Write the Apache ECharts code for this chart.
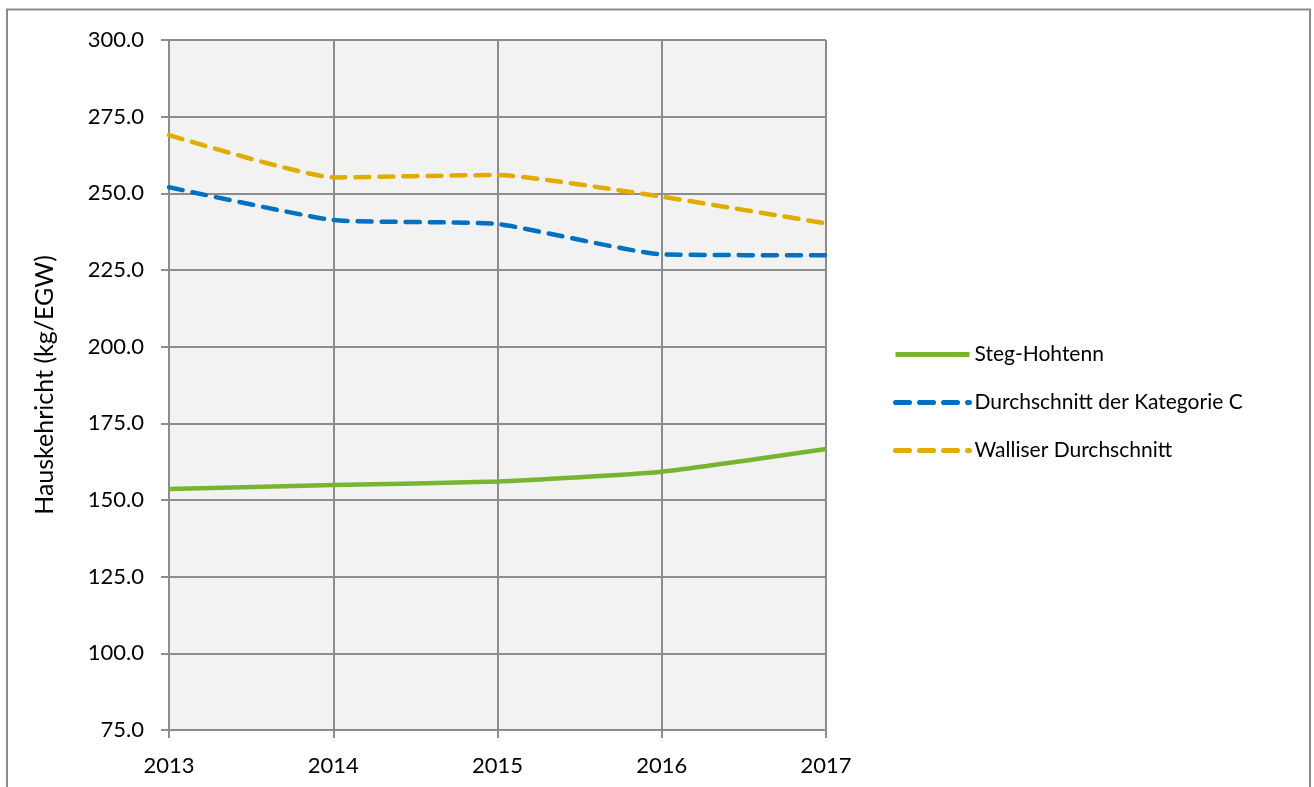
<!DOCTYPE html>
<html>
<head>
<meta charset="utf-8">
<script src="https://cdn.jsdelivr.net/npm/echarts@6/dist/echarts.min.js"></script>
<style>
html,body{margin:0;padding:0;background:#fff;}
#c{width:1314px;height:787px;}
</style>
</head>
<body>
<div id="c"></div>
<script>
const years = ['2013','2014','2015','2016','2017'];
const stegHohtenn = [153.6, 154.9, 156.0, 159.2, 166.6];
const kategorieC = [252.0, 241.3, 240.0, 230.1, 229.8];
const walliser = [269.0, 255.2, 256.0, 248.9, 240.2];
const seriesNames = ['Steg-Hohtenn', 'Durchschnitt der Kategorie C', 'Walliser Durchschnitt'];
const yAxisName = 'Hauskehricht (kg/EGW)';

const font = 'Lato';
const gridColor = '#8c8c8c';
const chart = echarts.init(document.getElementById('c'), null, {renderer: 'canvas'});
chart.setOption({
  backgroundColor: '#ffffff',
  animation: false,
  graphic: [{
    type: 'rect',
    shape: {x: 7, y: 9.5, width: 1303, height: 800},
    style: {fill: 'none', stroke: '#8c8c8c', lineWidth: 2},
    silent: true, z: -1
  }],
  grid: {
    left: 169, right: 488, top: 40, bottom: 57,
    show: true, backgroundColor: '#f2f2f2', borderWidth: 0
  },
  legend: {
    orient: 'vertical',
    left: 888, top: 339,
    itemWidth: 74, itemHeight: 14, itemGap: 27,
    itemStyle: {opacity: 0, borderWidth: 0},
    lineStyle: {width: 5},
    textStyle: {fontFamily: font, fontSize: 21, color: '#000'},
    data: seriesNames
  },
  xAxis: {
    type: 'category',
    data: years,
    boundaryGap: false,
    axisLine: {show: true, lineStyle: {color: gridColor, width: 2}},
    axisTick: {show: true, length: 8, lineStyle: {color: gridColor, width: 2}},
    splitLine: {show: true, lineStyle: {color: gridColor, width: 2}},
    axisLabel: {fontFamily: font, fontSize: 22, color: '#000', margin: 25}
  },
  yAxis: {
    type: 'value',
    min: 75, max: 300, interval: 25,
    name: yAxisName,
    nameLocation: 'middle',
    nameGap: 112,
    nameRotate: 90,
    nameTextStyle: {fontFamily: font, fontSize: 25, color: '#000'},
    axisLine: {show: true, lineStyle: {color: gridColor, width: 2}},
    axisTick: {show: true, length: 8, lineStyle: {color: gridColor, width: 2}},
    splitLine: {show: true, lineStyle: {color: gridColor, width: 2}},
    axisLabel: {fontFamily: font, fontSize: 22, color: '#000', margin: 25,
      formatter: v => v.toFixed(1)}
  },
  series: [
    {
      name: seriesNames[0], type: 'line', data: stegHohtenn,
      symbol: 'none', smooth: 0.15,
      lineStyle: {color: '#77b530', width: 4.5},
      itemStyle: {color: '#77b530'}
    },
    {
      name: seriesNames[1], type: 'line', data: kategorieC,
      symbol: 'none', smooth: 0.15,
      lineStyle: {color: '#0070c0', width: 4.5, type: [14, 10], cap: 'round'},
      itemStyle: {color: '#0070c0'}
    },
    {
      name: seriesNames[2], type: 'line', data: walliser,
      symbol: 'none', smooth: 0.15,
      lineStyle: {color: '#e0ac00', width: 4.5, type: [14, 10], cap: 'round'},
      itemStyle: {color: '#e0ac00'}
    }
  ]
});
</script>
</body>
</html>
